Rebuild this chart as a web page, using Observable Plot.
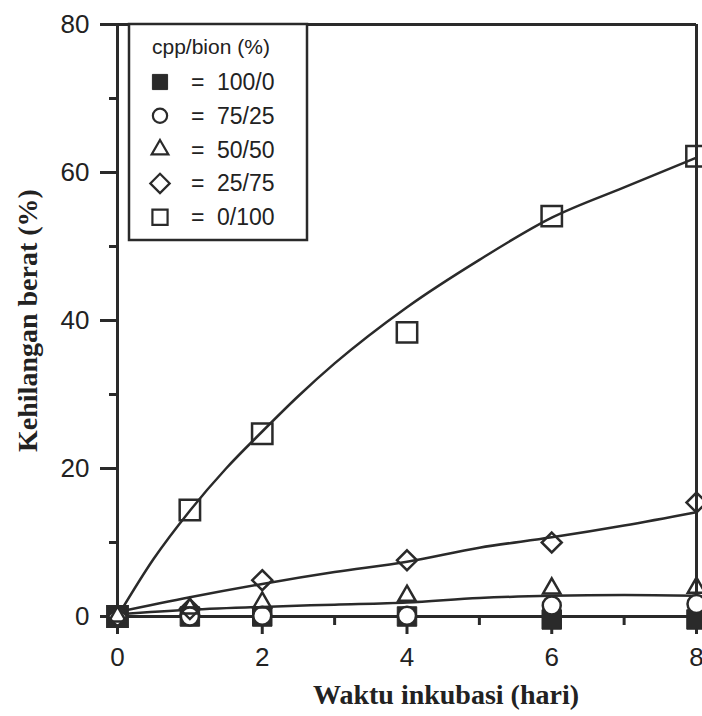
<!DOCTYPE html>
<html>
<head>
<meta charset="utf-8">
<script src="https://cdn.jsdelivr.net/npm/d3@7"></script>
<script src="https://cdn.jsdelivr.net/npm/@observablehq/plot@0.6"></script>
<style>
  body { margin: 0; background: #fff; }
  #wrap { position: relative; width: 702px; height: 716px; overflow: hidden; background: #fff; }
  #wrap > svg { position: absolute; left: 0; top: 0; }
</style>
</head>
<body>
<div id="wrap"></div>
<script>
// ---- data ----
const days = [0, 1, 2, 4, 6, 8];
const seriesLabels = ["100/0", "75/25", "50/50", "25/75", "0/100"];
const v100_0 = [0, 0, 0, 0, -0.4, -0.4];
const v75_25 = [0, 0, 0.1, 0.1, 1.5, 1.7];
const v50_50 = [0, 1.1, 1.9, 2.8, 3.8, 3.9];
const v25_75 = [0, 1.0, 4.9, 7.6, 10.0, 15.4];
const v0_100 = [0, 14.4, 24.7, 38.4, 54.1, 62.2];

// fitted curves drawn in the reference
const fitDaysCurve = [0, 0.5, 1, 1.5, 2, 2.5, 3, 4, 5, 6, 7, 8];
const fit0_100 = [0, 7.8, 14.3, 20.0, 25.0, 29.8, 34.2, 41.8, 48.2, 53.9, 58.0, 62.0];
const fitDaysLin = [0, 1, 2, 3, 4, 5, 6, 7, 8];
const fit25_75 = [0.6, 2.6, 4.4, 6.0, 7.4, 9.3, 10.7, 12.3, 14.1];
const fit50_50 = [0.3, 0.9, 1.3, 1.6, 1.9, 2.5, 2.8, 2.9, 2.8];
const fitBaseDays = [0, 8];
const fitBase = [0, 0];

const yTicks = [0, 20, 40, 60, 80];
const yMinor = [10, 30, 50, 70];
const xTicks = [0, 2, 4, 6, 8];
const xMinor = [1, 3, 5, 7];

const xTitle = "Waktu inkubasi (hari)";
const yTitle = "Kehilangan berat (%)";
const legendTitle = "cpp/bion (%)";

// ---- build tables ----
const ink = "#2a2a2a";
const pts = (xs, ys) => xs.map((x, i) => ({x, y: ys[i]}));

const sans = "'Liberation Sans', Arial, Helvetica, sans-serif";
const serif = "'Liberation Serif', 'Times New Roman', Times, serif";

const chart = Plot.plot({
  width: 702,
  height: 716,
  marginLeft: 117,
  marginRight: 6,
  marginTop: 24,
  marginBottom: 100,
  x: {domain: [0, 8]},
  y: {domain: [0, 80]},
  style: {fontFamily: sans, background: "transparent", color: ink},
  marks: [
    Plot.axisY(yTicks, {tickSize: 17, tickPadding: 11, fontSize: 26, strokeWidth: 3, label: null, stroke: ink, fill: "#222"}),
    Plot.axisY(yMinor, {tickSize: 8, strokeWidth: 3, label: null, tickFormat: () => "", stroke: ink}),
    Plot.axisX(xTicks, {tickSize: 18, tickPadding: 13, fontSize: 26, strokeWidth: 3, label: null, stroke: ink, fill: "#222"}),
    Plot.axisX(xMinor, {tickSize: 9, strokeWidth: 3, label: null, tickFormat: () => "", stroke: ink}),
    Plot.ruleX([0, 8], {y1: 0, y2: 80, stroke: ink, strokeWidth: 3}),
    Plot.ruleY([0, 80], {stroke: ink, strokeWidth: 3}),
    // fitted lines
    Plot.line(pts(fitBaseDays, fitBase), {x: "x", y: "y", stroke: ink, strokeWidth: 2.5}),
    Plot.line(pts(fitDaysLin, fit50_50), {x: "x", y: "y", curve: "monotone-x", stroke: ink, strokeWidth: 2.5}),
    Plot.line(pts(fitDaysLin, fit25_75), {x: "x", y: "y", curve: "monotone-x", stroke: ink, strokeWidth: 2.5}),
    Plot.line(pts(fitDaysCurve, fit0_100), {x: "x", y: "y", curve: "monotone-x", stroke: ink, strokeWidth: 2.5}),
    // markers
    Plot.dot(pts(days, v100_0), {x: "x", y: "y", symbol: "square", r: 11, fill: ink, stroke: ink, strokeWidth: 1}),
    Plot.dot(pts(days, v75_25), {x: "x", y: "y", symbol: "circle", r: 9, fill: "white", stroke: ink, strokeWidth: 2.5}),
    Plot.dot(pts(days, v50_50), {x: "x", y: "y", symbol: "triangle2", r: 8.3, fill: "none", stroke: ink, strokeWidth: 2.5}),
    Plot.dot(pts(days, v25_75), {x: "x", y: "y", symbol: "diamond2", r: 9, fill: "none", stroke: ink, strokeWidth: 2.5}),
    Plot.dot(pts(days, v0_100), {x: "x", y: "y", symbol: "square", r: 11.5, fill: "none", stroke: ink, strokeWidth: 2.5}),
    // axis titles
    Plot.text([yTitle], {frameAnchor: "left", rotate: -90, dx: -89, fontSize: 28, fontWeight: "bold", fontFamily: serif, textAnchor: "middle", lineAnchor: "middle", fill: "#222"}),
    Plot.text([xTitle], {frameAnchor: "bottom", dx: 39, dy: 87, fontSize: 28, fontWeight: "bold", fontFamily: serif, textAnchor: "middle", lineAnchor: "bottom", fill: "#222"})
  ]
});
document.getElementById("wrap").appendChild(chart);

// ---- legend (drawn on top, top-left inside the frame) ----
const symbolTypes = [d3.symbolSquare, d3.symbolCircle, d3.symbolTriangle2, d3.symbolDiamond2, d3.symbolSquare];
const symbolFilled = [true, false, false, false, false];
const symbolSizes = [230, 160, 200, 240, 230];

const leg = d3.create("svg").attr("width", 702).attr("height", 716)
  .style("position", "absolute").style("left", "0px").style("top", "0px");
const g = leg.append("g").attr("transform", "translate(129,24)");
g.append("rect").attr("x", 0).attr("y", 0).attr("width", 178).attr("height", 216)
  .attr("fill", "white").attr("stroke", ink).attr("stroke-width", 2.5);
g.append("text").attr("x", 23).attr("y", 30).text(legendTitle)
  .attr("font-family", sans).attr("font-size", 21).attr("fill", "#222");
seriesLabels.forEach((lab, i) => {
  const cy = 58 + i * 33.8;
  g.append("path")
    .attr("transform", `translate(31,${cy})`)
    .attr("d", d3.symbol(symbolTypes[i], symbolSizes[i])())
    .attr("fill", symbolFilled[i] ? ink : "none")
    .attr("stroke", ink).attr("stroke-width", symbolFilled[i] ? 1 : 2.2);
  g.append("text").attr("x", 62).attr("y", cy + 8).text("=")
    .attr("font-family", sans).attr("font-size", 23).attr("fill", "#222");
  g.append("text").attr("x", 88).attr("y", cy + 8).text(lab)
    .attr("font-family", sans).attr("font-size", 23).attr("fill", "#222");
});
document.getElementById("wrap").appendChild(leg.node());
</script>
</body>
</html>
